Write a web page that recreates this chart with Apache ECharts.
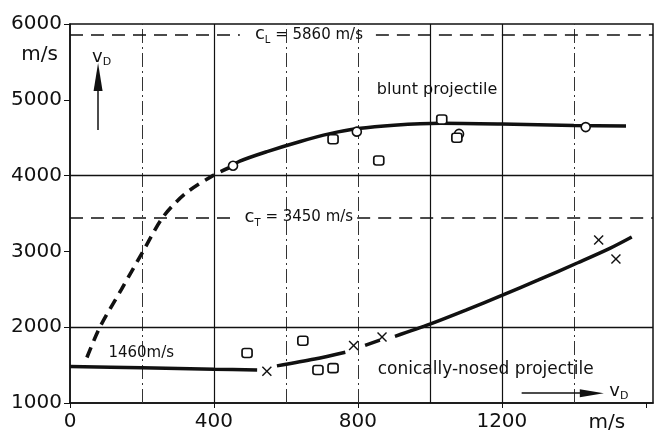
<!DOCTYPE html>
<html>
<head>
<meta charset="utf-8">
<script src="https://cdn.jsdelivr.net/npm/echarts@6/dist/echarts.min.js"></script>
<style>
html,body{margin:0;padding:0;background:#fff;}
#c{width:659px;height:446px;}
</style>
</head>
<body>
<div id="c"></div>
<script>
// ---- data ----
const xTicks = [0, 400, 800, 1200];
const yTicks = [1000, 2000, 3000, 4000, 5000, 6000];
const vGridSolid = [400, 1000, 1200];
const vGridDashed = [200, 600, 800, 1400];
const hGridSolid = [2000, 4000];
const cL = 5860;
const cT = 3450;

// blunt projectile curve (dashed part, then solid part)
const bluntDashX = [47, 83, 143, 203, 258, 320, 397, 445];
const bluntDashY = [1600, 2000, 2500, 3000, 3450, 3760, 4000, 4110];
const bluntSolidX = [445, 472, 550, 640, 720, 800, 900, 1030, 1200, 1400, 1545];
const bluntSolidY = [4110, 4190, 4320, 4450, 4550, 4620, 4665, 4690, 4680, 4660, 4655];

// conically-nosed projectile curve ('-' = gap)
const conicX = [0, 200, 400, 520, 545, 575, 680, 765, 790, 820, 861, 880, 903, 1000, 1100, 1200, 1300, 1411, 1500, 1561];
const conicY = [1480, 1465, 1445, 1435, '-', 1490, 1580, 1670, '-', 1760, 1830, '-', 1880, 2040, 2225, 2420, 2620, 2850, 3040, 3190];

// measured points
const circlesX = [453, 797, 1081, 1433];
const circlesY = [4130, 4580, 4550, 4640];
const squaresX = [731, 858, 1033, 1075, 492, 647, 689, 731];
const squaresY = [4480, 4200, 4740, 4500, 1660, 1820, 1435, 1460];
const crossesX = [547, 788, 867, 1469, 1517];
const crossesY = [1420, 1760, 1870, 3150, 2900];

// ---- helpers ----
const zip = (xs, ys) => xs.map((x, i) => [x, ys[i]]);
const FONT = 'DejaVu Sans';
const INK = '#111';
const XMAX = 1620;

const chart = echarts.init(document.getElementById('c'));

const crossPath = 'path://M0,1L1,0L5,4L9,0L10,1L6,5L10,9L9,10L5,6L1,10L0,9L4,5Z';
const dashC = {color: INK, width: 1.5, type: [13, 8]};
const seg = (x0, x1, y) => [{coord: [x0, y], lineStyle: dashC}, {coord: [x1, y]}];
const subRich = () => ({
  c: {fontSize: 18, fontFamily: FONT, color: INK},
  s: {fontSize: 10, fontFamily: FONT, color: INK, padding: [12, 0, 0, 0]},
  t: {fontSize: 15, fontFamily: FONT, color: INK}
});

const option = {
  animation: false,
  backgroundColor: '#fff',
  grid: {left: 70, right: 6, top: 24, bottom: 43, show: true, borderColor: INK, borderWidth: 1.5},
  xAxis: {
    type: 'value', min: 0, max: XMAX, interval: 400,
    splitLine: {show: false},
    axisLine: {lineStyle: {color: INK, width: 1.5}},
    axisTick: {show: true, length: 5, lineStyle: {color: INK}},
    axisLabel: {
      color: INK, fontFamily: FONT, fontSize: 20, margin: 9, showMaxLabel: false,
      formatter: v => xTicks.indexOf(v) >= 0 ? String(v) : ''
    }
  },
  yAxis: {
    type: 'value', min: 1000, max: 6000, interval: 1000,
    splitLine: {show: false},
    axisLine: {lineStyle: {color: INK, width: 1.5}},
    axisTick: {show: true, length: 6, lineStyle: {color: INK}},
    axisLabel: {
      color: INK, fontFamily: FONT, fontSize: 20, margin: 8,
      formatter: v => yTicks.indexOf(v) >= 0 ? String(v) : ''
    }
  },
  series: [
    {
      type: 'line', data: [], silent: true,
      markLine: {
        silent: true, symbol: ['none', 'none'], label: {show: false},
        data: [
          ...vGridSolid.map(v => ({xAxis: v, lineStyle: {color: INK, width: 1.2, type: 'solid'}})),
          ...vGridDashed.map(v => ({xAxis: v, lineStyle: {color: '#333', width: 1, type: [14, 4, 2, 4]}})),
          ...hGridSolid.map(v => ({yAxis: v, lineStyle: {color: INK, width: 1.3, type: 'solid'}})),
          seg(0, 472, cL), seg(850, XMAX, cL),
          seg(0, 466, cT), seg(798, XMAX, cT)
        ]
      }
    },
    {
      type: 'line', data: zip(bluntDashX, bluntDashY), smooth: 0.3, symbol: 'none',
      lineStyle: {color: INK, width: 3.6, type: [11, 7]}, z: 5
    },
    {
      type: 'line', data: zip(bluntSolidX, bluntSolidY), smooth: 0.3, symbol: 'none',
      lineStyle: {color: INK, width: 3.5}, z: 5
    },
    {
      type: 'line', data: zip(conicX, conicY), smooth: 0.3, symbol: 'none', connectNulls: false,
      lineStyle: {color: INK, width: 3.5}, z: 5
    },
    {
      type: 'scatter', data: zip(circlesX, circlesY), symbol: 'circle', symbolSize: 9,
      itemStyle: {color: '#fff', borderColor: INK, borderWidth: 1.6, opacity: 1}, z: 8
    },
    {
      type: 'scatter', data: zip(squaresX, squaresY), symbol: 'roundRect', symbolSize: [10, 9],
      itemStyle: {color: '#fff', borderColor: INK, borderWidth: 1.6, opacity: 1}, z: 8
    },
    {
      type: 'scatter', data: zip(crossesX, crossesY), symbol: crossPath, symbolSize: 10,
      itemStyle: {color: INK, opacity: 1}, z: 8
    },
    // text annotations placed in data coordinates
    {
      type: 'scatter', symbolSize: 0, silent: true, z: 10,
      itemStyle: {opacity: 1},
      label: {show: true, position: 'inside', color: INK, fontFamily: FONT, fontSize: 14},
      data: [
        {value: [1020, 5130], label: {formatter: 'blunt projectile', fontSize: 16}},
        {value: [1155, 1440], label: {formatter: 'conically-nosed projectile', fontSize: 17}},
        {value: [198, 1660], label: {formatter: '1460m/s', fontSize: 15}},
        {value: [664, cL], label: {formatter: '{c|c}{s|L}{t| = 5860 m/s}', rich: subRich()}},
        {value: [636, cT], label: {formatter: '{c|c}{s|T}{t| = 3450 m/s}', rich: subRich()}},
        {value: [88, 5560], label: {formatter: '{v|v}{s|D}',
          rich: {v: {fontSize: 18, fontFamily: FONT, color: INK}, s: {fontSize: 11, fontFamily: FONT, color: INK, padding: [10, 0, 0, 0]}}}},
        {value: [1525, 1150], label: {formatter: '{v|v}{s|D}',
          rich: {v: {fontSize: 18, fontFamily: FONT, color: INK}, s: {fontSize: 11, fontFamily: FONT, color: INK, padding: [10, 0, 0, 0]}}}}
      ],
      markLine: {
        silent: true, label: {show: false}, symbol: ['none', 'triangle'],
        data: [
          [{coord: [78, 4600], symbol: 'none'}, {coord: [78, 5300], symbol: 'triangle', symbolSize: [9, 28], lineStyle: {color: INK, width: 1.5, type: 'solid'}}],
          [{coord: [1255, 1130], symbol: 'none'}, {coord: [1450, 1130], symbol: 'triangle', symbolSize: [8, 24], lineStyle: {color: INK, width: 1.5, type: 'solid'}}]
        ]
      }
    }
  ]
};
chart.setOption(option);

// axis unit labels placed via the axes' scales
const pY = chart.convertToPixel({gridIndex: 0}, [0, 5590]);
const pX = chart.convertToPixel({gridIndex: 0}, [1492, 1000]);
chart.setOption({
  graphic: [
    {type: 'text', x: pY[0] - 12, y: pY[1], style: {text: 'm/s', font: '20px "DejaVu Sans"', fill: INK, align: 'right', verticalAlign: 'middle'}},
    {type: 'text', x: pX[0], y: pX[1] + 10, style: {text: 'm/s', font: '20px "DejaVu Sans"', fill: INK, align: 'center', verticalAlign: 'top'}}
  ]
});
</script>
</body>
</html>
